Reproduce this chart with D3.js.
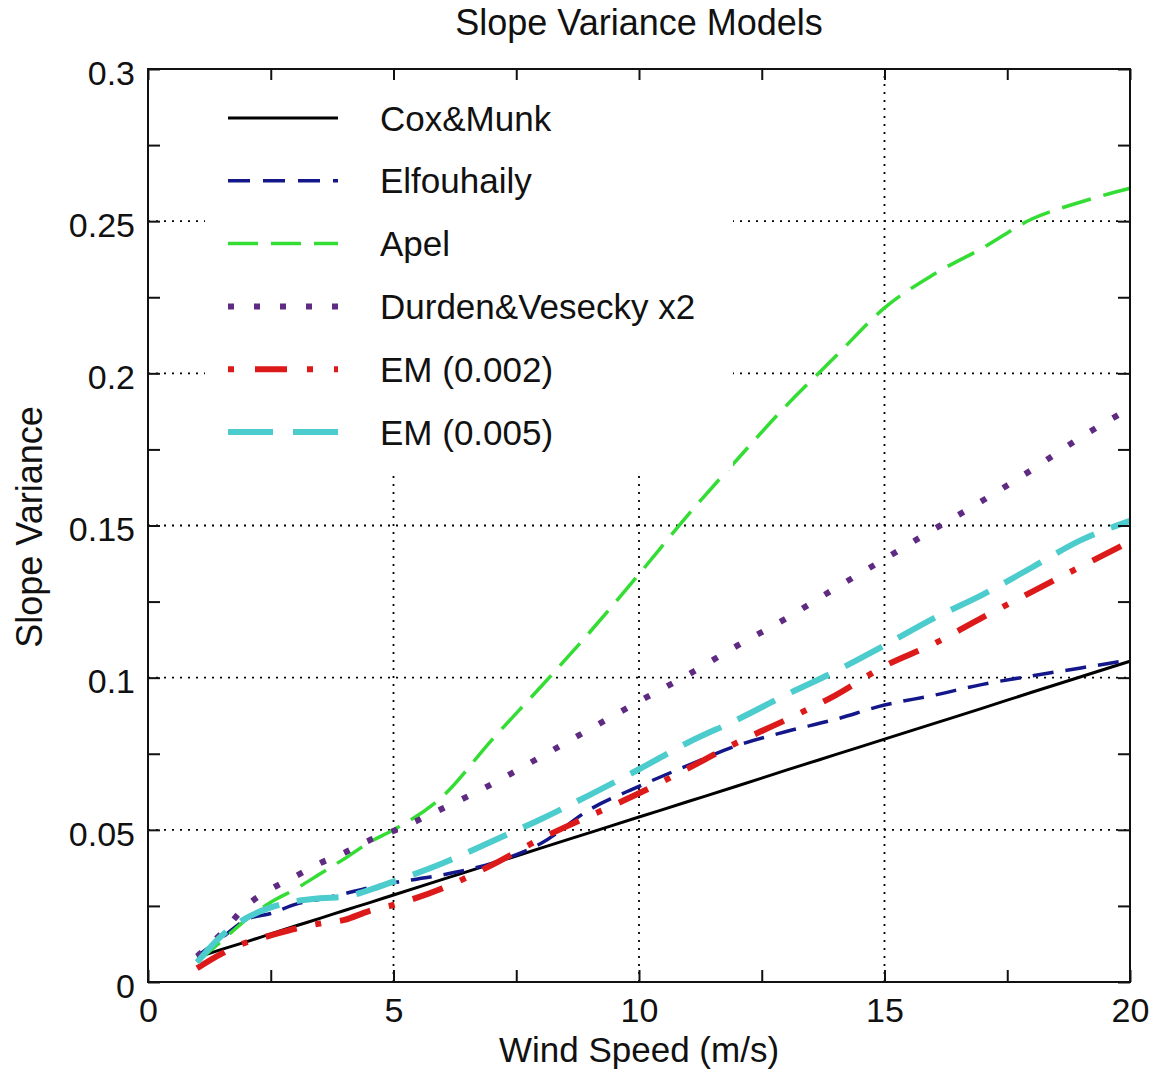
<!DOCTYPE html>
<html>
<head>
<meta charset="utf-8">
<script src="https://cdn.jsdelivr.net/npm/d3@7"></script>
<style>
  html, body { margin: 0; padding: 0; background: #fff; }
  svg { display: block; font-family: "Liberation Sans", Arial, Helvetica, sans-serif; }
</style>
</head>
<body>
<svg id="chart" width="1155" height="1074"></svg>
<script>
// ---------------- data ----------------
const windSpeed = [1, 1.5, 2, 2.5, 3, 3.5, 4, 4.5, 5, 6, 7, 8, 9, 10, 11, 12, 13, 14, 15, 16, 17, 18, 19, 20];

const coxMunk     = [0.0081, 0.0107, 0.0132, 0.0158, 0.0184, 0.0209, 0.0235, 0.0260, 0.0286, 0.0337, 0.0388, 0.0440, 0.0491, 0.0542, 0.0593, 0.0644, 0.0696, 0.0747, 0.0798, 0.0849, 0.0900, 0.0952, 0.1003, 0.1054];
const elfouhaily  = [0.0085, 0.0145, 0.0205, 0.0225, 0.0255, 0.0272, 0.0290, 0.0310, 0.0326, 0.0352, 0.0390, 0.0455, 0.0567, 0.0643, 0.0712, 0.0777, 0.0823, 0.0863, 0.0910, 0.0942, 0.0978, 0.1006, 0.1032, 0.1058];
const apel        = [0.0065, 0.0135, 0.0205, 0.0262, 0.0305, 0.0355, 0.0405, 0.0458, 0.0500, 0.0610, 0.0795, 0.0970, 0.1150, 0.1340, 0.1535, 0.1717, 0.1894, 0.2055, 0.2215, 0.2325, 0.2412, 0.2507, 0.2563, 0.2608];
const durden      = [0.0085, 0.0160, 0.0250, 0.0305, 0.0347, 0.0390, 0.0425, 0.0465, 0.0496, 0.0570, 0.0650, 0.0740, 0.0831, 0.0922, 0.1010, 0.1105, 0.1195, 0.1294, 0.1390, 0.1487, 0.1582, 0.1683, 0.1790, 0.1885];
const em002       = [0.0045, 0.0093, 0.0130, 0.0153, 0.0175, 0.0192, 0.0204, 0.0233, 0.0253, 0.0308, 0.0384, 0.0471, 0.0546, 0.0620, 0.0702, 0.0787, 0.0862, 0.0942, 0.1038, 0.1111, 0.1198, 0.1282, 0.1365, 0.1447];
const em005       = [0.0065, 0.0152, 0.0210, 0.0245, 0.0265, 0.0275, 0.0280, 0.0302, 0.0330, 0.0390, 0.0462, 0.0535, 0.0615, 0.0699, 0.0787, 0.0862, 0.0944, 0.1021, 0.1106, 0.1195, 0.1273, 0.1362, 0.1452, 0.1515];

const seriesNames = ["Cox&Munk", "Elfouhaily", "Apel", "Durden&Vesecky x2", "EM (0.002)", "EM (0.005)"];
const seriesValues = [coxMunk, elfouhaily, apel, durden, em002, em005];

const xTicks = [0, 2.5, 5, 7.5, 10, 12.5, 15, 17.5, 20];
const xLabels = [0, 5, 10, 15, 20];
const yTicks = [0, 0.025, 0.05, 0.075, 0.1, 0.125, 0.15, 0.175, 0.2, 0.225, 0.25, 0.275, 0.3];
const yLabels = [0, 0.05, 0.1, 0.15, 0.2, 0.25, 0.3];
const xGrid = [5, 10, 15];
const yGrid = [0.05, 0.1, 0.15, 0.2, 0.25];

// ---------------- styles ----------------
const styles = [
  { color: "#000000", width: 3,   dash: null,           legendDash: null },
  { color: "#13178a", width: 3.5, dash: "21,12",        legendDash: "22,13" },
  { color: "#33dd33", width: 3.5, dash: "30,13",        legendDash: "30,13" },
  { color: "#5e2a82", width: 6,   dash: "6,20",         legendDash: "6,20" },
  { color: "#dd1a1a", width: 6,   dash: "32,19,6,19",   legendDash: "6,21,32,20" },
  { color: "#4ccccc", width: 6,   dash: "42,18",        legendDash: "45,20" }
];

// ---------------- layout ----------------
const svg = d3.select("#chart");
const L = 148, R = 1130, T = 69, B = 982;
const x = d3.scaleLinear().domain([0, 20]).range([L, R]);
const y = d3.scaleLinear().domain([0, 0.3]).range([B, T]);

const fmtY = d => d === 0 ? "0" : String(+d.toFixed(3));

// gridlines
const grid = svg.append("g").attr("stroke", "#000").attr("stroke-width", 1.8).attr("stroke-dasharray", "2,6");
grid.selectAll(".gx").data(xGrid).enter().append("line")
  .attr("x1", d => x(d)).attr("x2", d => x(d)).attr("y1", B).attr("y2", T);
grid.selectAll(".gy").data(yGrid).enter().append("line")
  .attr("y1", d => y(d)).attr("y2", d => y(d)).attr("x1", L).attr("x2", R);

// series lines
const line = d3.line().x((d, i) => x(windSpeed[i])).y(d => y(d)).curve(d3.curveMonotoneX);
const lines = svg.append("g").attr("fill", "none");
seriesValues.forEach((vals, k) => {
  const s = styles[k];
  const p = lines.append("path").attr("d", line(vals))
    .attr("stroke", s.color).attr("stroke-width", s.width)
    .attr("stroke-linejoin", "round");
  if (s.dash) p.attr("stroke-dasharray", s.dash);
});

// legend (white box covers gridlines)
const leg = svg.append("g");
leg.append("rect").attr("x", 205).attr("y", T + 1.5).attr("width", 528).attr("height", 400).attr("fill", "#fff");
const rowY = i => 118 + i * 62.8;
seriesNames.forEach((name, i) => {
  const s = styles[i];
  const l = leg.append("line").attr("x1", 228).attr("x2", 338).attr("y1", rowY(i)).attr("y2", rowY(i))
    .attr("stroke", s.color).attr("stroke-width", s.width);
  if (s.legendDash) l.attr("stroke-dasharray", s.legendDash);
  leg.append("text").attr("x", 380).attr("y", rowY(i) + 12.5).attr("font-size", 35).attr("fill", "#111").text(name);
});

// axes
const tickFmtX = d => xLabels.includes(d) ? String(d) : "";
const tickFmtY = d => yLabels.some(v => Math.abs(v - d) < 1e-9) ? fmtY(d) : "";

const axB = svg.append("g").attr("transform", `translate(0,${B})`)
  .call(d3.axisBottom(x).tickValues(xTicks).tickSize(-12).tickSizeOuter(0).tickPadding(16).tickFormat(tickFmtX));
const axT = svg.append("g").attr("transform", `translate(0,${T})`)
  .call(d3.axisTop(x).tickValues(xTicks).tickSize(-11).tickSizeOuter(0).tickFormat(""));
const axLft = svg.append("g").attr("transform", `translate(${L},0)`)
  .call(d3.axisLeft(y).tickValues(yTicks).tickSize(-12).tickSizeOuter(0).tickPadding(13).tickFormat(tickFmtY));
const axRt = svg.append("g").attr("transform", `translate(${R},0)`)
  .call(d3.axisRight(y).tickValues(yTicks).tickSize(-12).tickSizeOuter(0).tickFormat(""));

[axB, axT, axLft, axRt].forEach(a => {
  a.select(".domain").remove();
  a.selectAll(".tick line").attr("stroke", "#111").attr("stroke-width", 2);
  a.selectAll("text").attr("font-size", 34).attr("fill", "#111").attr("font-family", "Liberation Sans, Arial, sans-serif");
});
axLft.selectAll("text").attr("dy", "0.45em");

// frame
svg.append("rect").attr("x", L).attr("y", T).attr("width", R - L).attr("height", B - T)
  .attr("fill", "none").attr("stroke", "#111").attr("stroke-width", 2);

// titles
svg.append("text").attr("x", 639).attr("y", 35).attr("text-anchor", "middle").attr("font-size", 36).attr("fill", "#111")
  .text("Slope Variance Models");
svg.append("text").attr("x", 639).attr("y", 1062).attr("text-anchor", "middle").attr("font-size", 35).attr("fill", "#111")
  .text("Wind Speed (m/s)");
svg.append("text").attr("transform", "translate(42,527) rotate(-90)").attr("text-anchor", "middle").attr("font-size", 36).attr("fill", "#111")
  .text("Slope Variance");
</script>
</body>
</html>
